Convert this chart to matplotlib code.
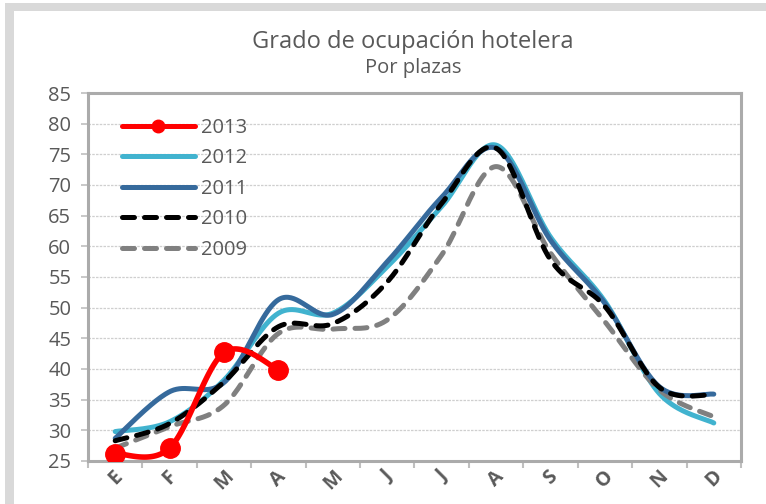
import numpy as np
import matplotlib
matplotlib.use("Agg")
import matplotlib.pyplot as plt
import matplotlib.transforms as mtransforms
from matplotlib.lines import Line2D
from matplotlib.patches import Rectangle

months = ["E", "F", "M", "A", "M", "J", "J", "A", "S", "O", "N", "D"]
s2013 = [26.2, 27.1, 42.7, 39.9]
s2012 = [29.8, 31.4, 38.2, 49.1, 49.1, 56.7, 66.5, 76.5, 61.5, 51.0, 36.0, 31.2]
s2011 = [28.7, 36.3, 37.8, 51.3, 48.9, 57.5, 68.0, 76.0, 61.0, 50.7, 37.1, 35.9]
s2010 = [28.3, 31.1, 37.9, 46.9, 47.4, 54.2, 67.0, 76.0, 57.8, 50.2, 37.0, 35.8]
s2009 = [27.1, 30.6, 34.1, 45.8, 46.5, 48.0, 58.6, 73.0, 58.9, 47.7, 36.6, 32.2]
yticks = [25, 30, 35, 40, 45, 50, 55, 60, 65, 70, 75, 80, 85]

TXT = "#595959"
FONT = "Open Sans"
plt.rcParams["font.family"] = [FONT, "DejaVu Sans"]


def smooth(vals, n=40):
    """Excel-like smoothed line (Catmull-Rom Bezier)."""
    y = np.asarray(vals, float)
    x = np.arange(len(y), dtype=float)
    P = np.column_stack([x, y])
    out = []
    m = len(P)
    t = np.linspace(0, 1, n)[:, None]
    for i in range(m - 1):
        p0 = P[i - 1] if i > 0 else P[i]
        p1 = P[i]
        p2 = P[i + 1]
        p3 = P[i + 2] if i + 2 < m else P[i + 1]
        c1 = p1 + (p2 - p0) / 6.0
        c2 = p2 - (p3 - p1) / 6.0
        seg = ((1 - t) ** 3) * p1 + 3 * ((1 - t) ** 2) * t * c1 + 3 * (1 - t) * t ** 2 * c2 + t ** 3 * p2
        out.append(seg if i == 0 else seg[1:])
    pts = np.vstack(out)
    return pts[:, 0], pts[:, 1]


W, H = 766, 504
fig = plt.figure(figsize=(W / 100, H / 100), dpi=100)
fig.patch.set_facecolor("white")

# gray frame strips
fig.patches.append(Rectangle((5 / W, 0), 9 / W, 1 - 3 / H, transform=fig.transFigure,
                             facecolor="#d9d9d9", edgecolor="none", zorder=0))
fig.patches.append(Rectangle((5 / W, 1 - 11 / H), 1, 8 / H, transform=fig.transFigure,
                             facecolor="#d9d9d9", edgecolor="none", zorder=0))

L, R, T, B = 88, 741, 93, 461
ax = fig.add_axes([L / W, 1 - B / H, (R - L) / W, (B - T) / H])

lw = 3.6
DASH = (2.4, 2.0)
c2012 = "#41B3CF"
c2011 = "#366A9C"

x = np.arange(len(months))
xs, ys = smooth(s2009)
ax.plot(xs, ys, color="#808080", lw=lw, dashes=DASH, dash_capstyle="round", zorder=3)
xs, ys = smooth(s2010)
ax.plot(xs, ys, color="black", lw=lw, dashes=DASH, dash_capstyle="round", zorder=4)
xs, ys = smooth(s2012)
ax.plot(xs, ys, color=c2012, lw=lw, solid_capstyle="round", zorder=2)
xs, ys = smooth(s2011)
ax.plot(xs, ys, color=c2011, lw=lw, solid_capstyle="round", zorder=3.5)
xs, ys = smooth(s2013)
ax.plot(xs, ys, color="#FF0000", lw=lw + 0.4, solid_capstyle="round", zorder=5)
ax.plot(x[:len(s2013)], s2013, "o", color="#FF0000", ms=14, zorder=6)

ax.set_xlim(-0.5, len(months) - 0.5)
ax.set_ylim(25, 85)
ax.set_yticks(yticks)
ax.set_yticklabels([str(v) for v in yticks], fontsize=14.5, color=TXT)
ax.yaxis.grid(True, color="#cfcfcf", lw=0.9, ls=(0, (2, 1)))
ax.set_axisbelow(True)

ax.set_xticks(np.arange(-0.5, len(months)), minor=False)
ax.set_xticklabels([])
ax.set_xticks(x, minor=True)
ax.set_xticklabels(months, minor=True, rotation=45, fontsize=14, color=TXT,
                   fontweight="bold", ha="center", va="top")
shift = mtransforms.ScaledTranslation(-6 / 100, 0, fig.dpi_scale_trans)
for lab in ax.get_xticklabels(minor=True):
    lab.set_transform(lab.get_transform() + shift)
ax.tick_params(axis="x", which="major", length=5, width=1.5, color="#bfbfbf", direction="out")
ax.tick_params(axis="x", which="minor", length=0, pad=4)
ax.tick_params(axis="y", length=5, width=1.2, color="#bfbfbf", direction="out", pad=7)

for s in ax.spines.values():
    s.set_color("#ababab")
    s.set_linewidth(2.2)

handles = [
    Line2D([], [], color="#FF0000", lw=lw, marker="o", ms=9, solid_capstyle="round"),
    Line2D([], [], color=c2012, lw=lw, solid_capstyle="round"),
    Line2D([], [], color=c2011, lw=lw, solid_capstyle="round"),
    Line2D([], [], color="black", lw=lw, dashes=DASH, dash_capstyle="round"),
    Line2D([], [], color="#808080", lw=lw, dashes=DASH, dash_capstyle="round"),
]
leg = fig.legend(handles, ["2013", "2012", "2011", "2010", "2009"], loc="upper left",
                 bbox_to_anchor=(122 / W, 1 - 118 / H), bbox_transform=fig.transFigure,
                 frameon=False, fontsize=14.5, handlelength=3.6, handletextpad=0.3,
                 labelspacing=0.52, borderpad=0, borderaxespad=0, markerscale=1)
for t in leg.get_texts():
    t.set_color(TXT)

fig.text(413 / W, 1 - 42 / H, "Grado de ocupación hotelera", ha="center", va="center",
         fontsize=17, color=TXT)
fig.text(413 / W, 1 - 68 / H, "Por plazas", ha="center", va="center",
         fontsize=14.5, color=TXT)

fig.savefig("out.png", dpi=100)
